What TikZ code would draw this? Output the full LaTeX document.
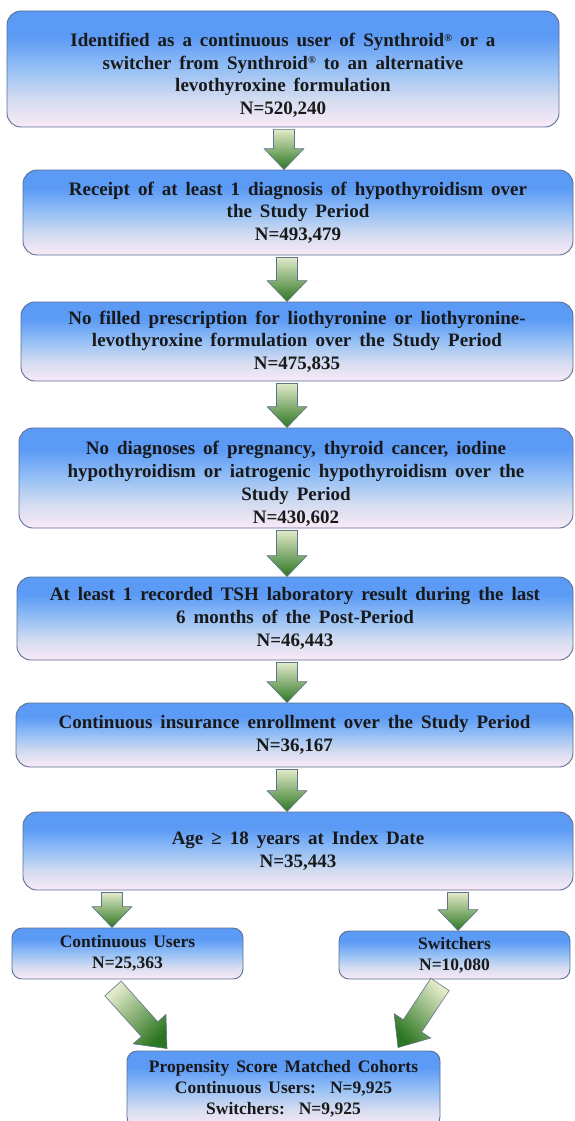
\documentclass[tikz,border=0pt]{standalone}
\usepackage{fontspec}
\setmainfont{Liberation Serif}
\usetikzlibrary{calc}
\definecolor{arrowlight}{RGB}{226,234,200}
\definecolor{arrowdark}{RGB}{44,118,34}
\definecolor{arrowline}{RGB}{95,115,140}
\definecolor{boxline}{RGB}{90,110,150}
\definecolor{boxtop}{RGB}{92,155,245}
\definecolor{boxmid}{RGB}{150,192,245}
\definecolor{boxlow}{RGB}{212,220,240}
\definecolor{boxpink}{RGB}{250,234,247}
\definecolor{textcol}{RGB}{25,25,25}
\pgfdeclareverticalshading{boxshade}{100bp}{color(0bp)=(boxpink); color(25bp)=(boxpink); color(37bp)=(boxlow); color(50bp)=(boxmid); color(64bp)=(boxtop); color(100bp)=(boxtop)}
\newcommand\bigboxfont{\fontsize{19}{22.7}\selectfont\bfseries\spaceskip=0.42em plus 0.1em\relax}
\newcommand\smallboxfont{\fontsize{17.5}{21}\selectfont\bfseries\spaceskip=0.4em plus 0.1em\relax}
\newcommand\regmark{\raisebox{0.6ex}{\fontsize{10.5}{10.5}\selectfont ®}}
\def\bsw{10.5pt}
\def\bhw{20pt}
\def\bhl{21pt}
\tikzset{
  box/.style={draw=boxline, line width=0.9pt, rounded corners=14pt, shading=boxshade,
    align=center, inner sep=0pt, text=textcol, font=\bigboxfont},
  sbox/.style={box, rounded corners=10pt, font=\smallboxfont},
  arrowdims/.code n args={3}{\def\bsw{#1}\def\bhw{#2}\def\bhl{#3}},
  barrow/.style={draw=arrowline, line width=0.6pt, top color=arrowlight, bottom color=arrowdark,
    to path={let \p1=(\tikztostart), \p2=(\tikztotarget),
      \n1={atan2(\y2-\y1,\x2-\x1)}, \n2={veclen(\x2-\x1,\y2-\y1)} in
      ($(\p1)+(\n1+90:\bsw)$) -- ($(\p1)+(\n1:{\n2-\bhl})+(\n1+90:\bsw)$)
      -- ($(\p1)+(\n1:{\n2-\bhl})+(\n1+90:\bhw)$) -- (\p2)
      -- ($(\p1)+(\n1:{\n2-\bhl})+(\n1-90:\bhw)$) -- ($(\p1)+(\n1:{\n2-\bhl})+(\n1-90:\bsw)$)
      -- ($(\p1)+(\n1-90:\bsw)$) -- cycle}},
}
\begin{document}
\begin{tikzpicture}[x=1pt,y=-1pt]
\useasboundingbox (0,0) rectangle (574,1121);
\node[box, minimum width=552, minimum height=116] (b1) at (283,69)
  {\rule{0pt}{26pt}Identified as a continuous user of Synthroid\regmark{} or a\\
   switcher from Synthroid\regmark{} to an alternative\\
   levothyroxine formulation\\ N=520,240};
\node[box, minimum width=550, minimum height=85] (b2) at (298,212.5)
  {Receipt of at least 1 diagnosis of hypothyroidism over\\ the Study Period\\ N=493,479};
\node[box, minimum width=552, minimum height=79] (b3) at (297,341.5)
  {No filled prescription for liothyronine or liothyronine-\\
   levothyroxine formulation over the Study Period\\ N=475,835};
\node[box, minimum width=554, minimum height=100] (b4) at (296,478)
  {\rule{0pt}{25pt}No diagnoses of pregnancy, thyroid cancer, iodine\\
   hypothyroidism or iatrogenic hypothyroidism over the\\ Study Period\\ N=430,602};
\node[box, minimum width=556, minimum height=83] (b5) at (295,618.5)
  {At least 1 recorded TSH laboratory result during the last\\
   6 months of the Post-Period\\ N=46,443};
\node[box, minimum width=557, minimum height=64] (b6) at (294.5,735)
  {Continuous insurance enrollment over the Study Period\\ N=36,167};
\node[box, minimum width=550, minimum height=78] (b7) at (298,851)
  {Age ≥ 18 years at Index Date\\ N=35,443};
\node[sbox, minimum width=231, minimum height=51] (bl) at (127.5,953.5)
  {Continuous Users\\ N=25,363};
\node[sbox, minimum width=231, minimum height=48] (br) at (454.5,955)
  {Switchers\\ N=10,080};
\node[sbox, minimum width=313, minimum height=76] (bb) at (283.5,1089)
  {Propensity Score Matched Cohorts\\ Continuous Users:\ \ N=9,925\\ Switchers:\ \ N=9,925};
% arrow axes
\coordinate (ax1) at (284,0);
\coordinate (ax) at (287,0);
\coordinate (axl) at (112,0);
\coordinate (axr) at (458,0);
\draw[barrow] ([yshift=-2pt]ax1 |- b1.south) to (ax1 |- b2.north);
\draw[barrow] ([yshift=-2pt]ax |- b2.south) to (ax |- b3.north);
\draw[barrow] ([yshift=-2pt]ax |- b3.south) to (ax |- b4.north);
\draw[barrow] ([yshift=-2pt]ax |- b4.south) to (ax |- b5.north);
\draw[barrow] ([yshift=-2pt]ax |- b5.south) to (ax |- b6.north);
\draw[barrow] ([yshift=-2pt]ax |- b6.south) to (ax |- b7.north);
\draw[barrow] ([yshift=-2pt]axl |- b7.south) to (axl |- bl.north);
\draw[barrow] ([yshift=-2pt]axr |- b7.south) to (axr |- br.north);
% diagonal arrows
\coordinate (dls) at ($(bl.south)+(-14.5,9)$);
\coordinate (dle) at ($(bb.north)+(-116.5,-2)$);
\coordinate (drs) at ($(br.south)+(-14.5,5)$);
\coordinate (dre) at ($(bb.north)+(114.5,-3)$);
\draw[barrow, arrowdims={11pt}{22pt}{26pt}, shading angle=45] (dls) to (dle);
\draw[barrow, arrowdims={11pt}{22pt}{26pt}, shading angle=-45] (drs) to (dre);
\end{tikzpicture}
\end{document}
